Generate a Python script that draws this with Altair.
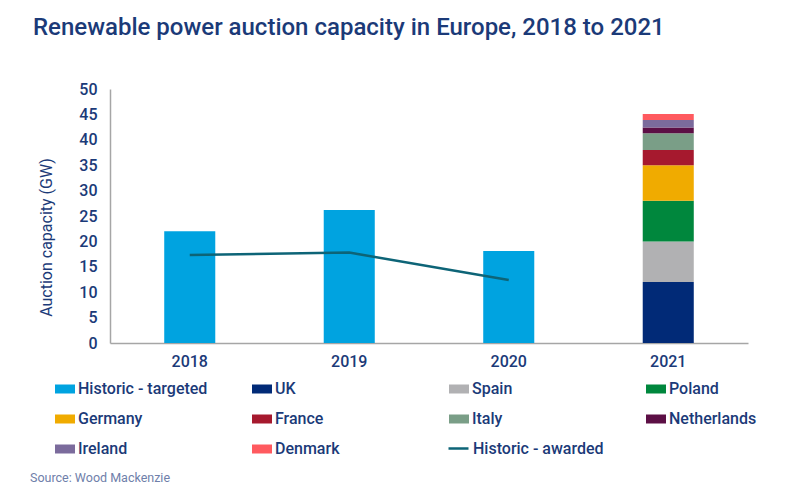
import altair as alt
import pandas as pd

# ---- data ----
years = ["2018", "2019", "2020", "2021"]
hist_years = ["2018", "2019", "2020"]
historic_targeted = [22.0, 26.2, 18.1]
historic_awarded = [17.3, 17.8, 12.4]
countries = ["UK", "Spain", "Poland", "Germany", "France", "Italy",
             "Netherlands", "Ireland", "Denmark"]
capacity_2021 = [12.0, 8.0, 8.0, 7.0, 3.0, 3.3, 1.1, 1.5, 1.2]
series_names = ["Historic - targeted"] + countries
series_colors = ["#00a3e0", "#012a77", "#b1b1b3", "#00873d", "#f0ab00",
                 "#a6192e", "#7a9e87", "#5c0f45", "#7b6b9c", "#ff5a5f"]
awarded_name = "Historic - awarded"
awarded_color = "#0d6477"
title_text = "Renewable power auction capacity in Europe, 2018 to 2021"
source_text = "Source: Wood Mackenzie"
y_ticks = list(range(0, 51, 5))

NAVY = "#1b3a78"
FONT = "Roboto"

rows = []
for y, v in zip(hist_years, historic_targeted):
    rows.append({"year": y, "series": "Historic - targeted", "value": v, "ord": 0})
for i, (c, v) in enumerate(zip(countries, capacity_2021)):
    rows.append({"year": "2021", "series": c, "value": v, "ord": i + 1})
bars_df = pd.DataFrame(rows)
line_df = pd.DataFrame({"year": hist_years, "value": historic_awarded,
                        "series": [awarded_name] * 3})
src_df = pd.DataFrame({"t": [source_text]})

x_scale = alt.Scale(domain=years, paddingInner=0.68, paddingOuter=0.34)
x_axis = alt.Axis(title=None, labelAngle=0, ticks=False, labelPadding=10,
                  labelFontSize=16, labelFontWeight=500, labelColor=NAVY,
                  domainColor="#a6a6a6", domainWidth=1.5, labelFont=FONT)
y_scale = alt.Scale(domain=[0, 50], nice=False)
y_axis = alt.Axis(title="Auction capacity (GW)", values=y_ticks, ticks=False, grid=False,
                  labelOverlap=False, tickCount=11,
                  labelPadding=13, labelFontSize=16, labelFontWeight=500, labelColor=NAVY,
                  labelFont=FONT, titleFont=FONT, titleFontSize=16, titleFontWeight="normal",
                  titleColor=NAVY, titlePadding=24, titleY=148,
                  domainColor="#a6a6a6", domainWidth=1.5)

bars = alt.Chart(bars_df).mark_bar().encode(
    x=alt.X("year:N", sort=years, scale=x_scale, axis=x_axis),
    y=alt.Y("value:Q", scale=y_scale, axis=y_axis, stack="zero"),
    color=alt.Color("series:N", scale=alt.Scale(domain=series_names, range=series_colors),
                    legend=alt.Legend(title=None, orient="none", legendX=-55, legendY=290,
                                      direction="horizontal",
                                      columns=4, gridAlign="all", columnPadding=44,
                                      rowPadding=12, padding=0,
                                      symbolType="M-1,-0.45H1V0.45H-1Z", symbolSize=400,
                                      symbolStrokeWidth=0, symbolOpacity=1,
                                      labelFont=FONT, labelFontSize=16, labelFontWeight=500,
                                      labelColor=NAVY, labelOffset=3, labelLimit=300)),
    order=alt.Order("ord:Q", sort="ascending"),
)

line = alt.Chart(line_df).mark_line(strokeWidth=2.5).encode(
    x=alt.X("year:N", sort=years, scale=x_scale, axis=x_axis),
    y=alt.Y("value:Q", scale=y_scale, axis=y_axis),
    stroke=alt.Stroke("series:N", scale=alt.Scale(domain=[awarded_name], range=[awarded_color]),
                      legend=alt.Legend(title=None, orient="none", legendX=337, legendY=348,
                                        padding=0, symbolType="stroke", symbolSize=400,
                                        symbolStrokeWidth=2.5,
                                        labelFont=FONT, labelFontSize=16, labelFontWeight=500,
                                        labelColor=NAVY, labelOffset=3, labelLimit=300)),
)

source = alt.Chart(src_df).mark_text(align="left", baseline="middle", font=FONT,
                                     fontSize=12.5, color="#6f80aa").encode(
    x=alt.value(-80), y=alt.value(389), text="t:N")

chart = alt.layer(bars, line, source).resolve_scale(color="independent").properties(
    width=638, height=254,
    autosize=alt.AutoSizeParams(type="none"),
    padding={"left": 102, "top": 81, "right": 48, "bottom": 148},
    title=alt.TitleParams(title_text, anchor="start", frame="group", dx=-77, offset=41,
                          font=FONT, fontSize=24, fontWeight=500, color=NAVY),
).configure_view(stroke=None)

chart.save("out.html", embed_options={"renderer": "svg", "actions": False})
